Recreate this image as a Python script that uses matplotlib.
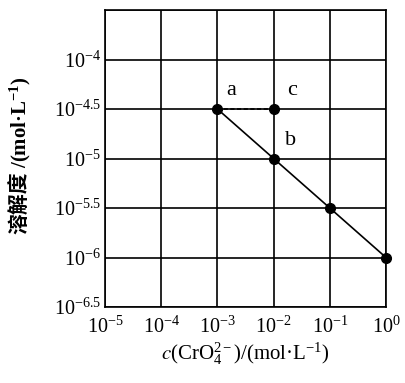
import matplotlib
matplotlib.use("Agg")
import matplotlib.pyplot as plt
import numpy as np

plt.rcParams['mathtext.fontset'] = 'stix'
plt.rcParams['font.family'] = ['Liberation Serif', 'DejaVu Sans']

# data
line_x = [1e-3, 1e-2, 1e-1, 1e0]
line_y = [10**-4.5, 10**-5, 10**-5.5, 10**-6]
dash_x = [1e-3, 1e-2]
dash_y = [10**-4.5, 10**-4.5]
point_labels = ['a', 'c', 'b']
point_x = [1e-3, 1e-2, 1e-2]
point_y = [10**-4.5, 10**-4.5, 10**-5]
x_ticks = [1e-5, 1e-4, 1e-3, 1e-2, 1e-1, 1e0]
x_ticklabels = ['-5', '-4', '-3', '-2', '-1', '0']
y_ticks = [10**-6.5, 10**-6, 10**-5.5, 10**-5, 10**-4.5, 10**-4, 10**-3.5]
y_ticklabels = ['-6.5', '-6', '-5.5', '-5', '-4.5', '-4', '']

fig = plt.figure(figsize=(4.06, 3.83), dpi=100)
ax = fig.add_axes([105/406, 1-307/383, (386-105)/406, (307-10)/383])
ax.set_xscale('log')
ax.set_yscale('log')
ax.set_xlim(1e-5, 1e0)
ax.set_ylim(10**-6.5, 10**-3.5)
ax.set_xticks(x_ticks)
ax.set_xticklabels([r'$\mathregular{10^{%s}}$' % t for t in x_ticklabels], fontsize=14.5)
ax.set_yticks(y_ticks)
ax.set_yticklabels([(r'$\mathregular{10^{%s}}$' % t) if t else '' for t in y_ticklabels], fontsize=14.5)
ax.minorticks_off()
ax.tick_params(axis='x', length=0, pad=7)
ax.tick_params(axis='y', length=0, pad=3)
ax.grid(True, color='black', linewidth=1.2)
for s in ax.spines.values():
    s.set_linewidth(1.2)

ax.plot(line_x, line_y, color='black', linewidth=1.2, clip_on=False)
ax.plot(dash_x, dash_y, color='black', linewidth=1.2, linestyle=(0, (2.5, 1.5)))
ax.plot(line_x + [1e-2], line_y + [10**-4.5], 'o', color='black', markersize=7, clip_on=False, zorder=5)

offsets = {'a': (10, 13), 'c': (13, 13), 'b': (12, 13)}
for lab, px, py in zip(point_labels, point_x, point_y):
    ax.annotate(lab, (px, py), xytext=offsets[lab], textcoords='offset points',
                fontsize=16, ha='center', va='center')

ax.set_xlabel(r'$\mathit{c}$(CrO$\mathregular{_4^{2-}}$)/(mol·L$\mathregular{^{-1}}$)', fontsize=15, labelpad=2)

# y label in two parts: Chinese (CJK font) + unit (serif)
t1 = fig.text(20/406, 1-234/383, '溶解度', rotation=90, ha='center', va='bottom',
              fontsize=15, fontweight='bold', family=['Noto Sans CJK SC', 'DejaVu Sans'])
fig.canvas.draw()
bb = t1.get_window_extent()
top_frac = (bb.y1 + 3) / fig.bbox.height
fig.text(20/406, top_frac, '/(mol·L$\\mathregular{^{-1}}$)', rotation=90, ha='center', va='bottom',
         fontsize=15, fontweight='bold', family=['Liberation Serif', 'DejaVu Sans'])

fig.savefig('out.png', dpi=100)
